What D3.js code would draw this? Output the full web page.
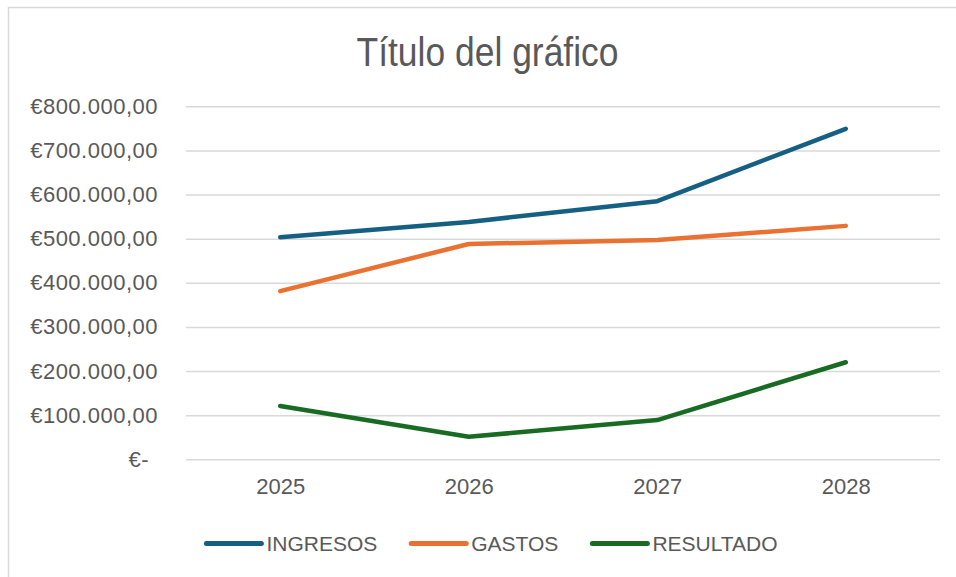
<!DOCTYPE html>
<html>
<head>
<meta charset="utf-8">
<script src="https://cdn.jsdelivr.net/npm/d3@7/dist/d3.min.js"></script>
<style>
  html, body { margin: 0; padding: 0; background: #ffffff; }
  svg { display: block; }
  text { font-family: "Liberation Sans", Arial, sans-serif; fill: #595959; }
</style>
</head>
<body>
<svg id="chart" width="956" height="577"></svg>
<script>
// ---- data ----
const categories = ["2025", "2026", "2027", "2028"];
const seriesNames = ["INGRESOS", "GASTOS", "RESULTADO"];
const ingresos  = [503000, 538000, 585000, 749000];
const gastos    = [381000, 488000, 497000, 529000];
const resultado = [121000,  51000,  89000, 220000];
const tickValues = [0, 100000, 200000, 300000, 400000, 500000, 600000, 700000, 800000];
const tickLabels = ["€-", "€100.000,00", "€200.000,00", "€300.000,00", "€400.000,00",
                    "€500.000,00", "€600.000,00", "€700.000,00", "€800.000,00"];
const colors = ["#156082", "#E97132", "#196B24"];
const title = "Título del gráfico";

const seriesValues = [ingresos, gastos, resultado];

// ---- layout ----
const svg = d3.select("#chart");
const W = 956, H = 577;
const plot = { left: 186, right: 940, top: 106.3, bottom: 459.3 };

// chart area border
svg.append("rect")
  .attr("x", 8.5).attr("y", 7.5)
  .attr("width", W + 10).attr("height", H + 10)
  .attr("fill", "#ffffff")
  .attr("stroke", "#D9D9D9").attr("stroke-width", 1.5);

// title
svg.append("text")
  .attr("x", 487.5).attr("y", 66)
  .attr("text-anchor", "middle")
  .attr("font-size", 40)
  .attr("textLength", 262)
  .attr("lengthAdjust", "spacingAndGlyphs")
  .text(title);

// scales
const x = d3.scalePoint().domain(categories).range([plot.left, plot.right]).padding(0.5);
const y = d3.scaleLinear().domain([0, 800000]).range([plot.bottom, plot.top]);

// y axis (gridlines + labels)
const yAxis = d3.axisLeft(y)
  .tickValues(tickValues)
  .tickSize(-(plot.right - plot.left))
  .tickPadding(28)
  .tickFormat((d, i) => tickLabels[i]);

const gy = svg.append("g")
  .attr("transform", `translate(${plot.left},0)`)
  .call(yAxis);
gy.select(".domain").remove();
gy.selectAll(".tick line").attr("stroke", "#D9D9D9").attr("stroke-width", 1.5);
gy.selectAll(".tick text")
  .attr("font-size", 22)
  .attr("letter-spacing", 0.5)
  .attr("font-family", "Liberation Sans, Arial, sans-serif")
  .attr("fill", "#595959")
  .attr("dx", (d) => d === 0 ? -9 : 0);

// x axis labels
const xAxis = d3.axisBottom(x).tickSize(0).tickPadding(19);
const gx = svg.append("g")
  .attr("transform", `translate(0,${plot.bottom})`)
  .call(xAxis);
gx.select(".domain").remove();
gx.selectAll(".tick text")
  .attr("font-size", 22)
  .attr("font-family", "Liberation Sans, Arial, sans-serif")
  .attr("fill", "#595959");

// lines
const line = d3.line()
  .x((d, i) => x(categories[i]))
  .y(d => y(d));

seriesValues.forEach((vals, si) => {
  svg.append("path")
    .datum(vals)
    .attr("d", line)
    .attr("fill", "none")
    .attr("stroke", colors[si])
    .attr("stroke-width", 4.5)
    .attr("stroke-linecap", "round")
    .attr("stroke-linejoin", "round");
});

// legend
const legend = svg.append("g");
const legendY = 543.5;
const lineLen = 55, gapLineText = 5, gapItems = 34;
const items = seriesNames.map((name, i) => {
  const g = legend.append("g");
  g.append("line")
    .attr("x1", 0).attr("x2", lineLen)
    .attr("y1", legendY).attr("y2", legendY)
    .attr("stroke", colors[i]).attr("stroke-width", 5)
    .attr("stroke-linecap", "round");
  const t = g.append("text")
    .attr("x", lineLen + gapLineText)
    .attr("y", legendY)
    .attr("dy", "0.36em")
    .attr("font-size", 21)
    .text(name);
  return { g, w: lineLen + gapLineText + t.node().getComputedTextLength() };
});
const total = d3.sum(items, d => d.w) + gapItems * (items.length - 1);
let cx = 492 - total / 2;
items.forEach(it => {
  it.g.attr("transform", `translate(${cx},0)`);
  cx += it.w + gapItems;
});
</script>
</body>
</html>
